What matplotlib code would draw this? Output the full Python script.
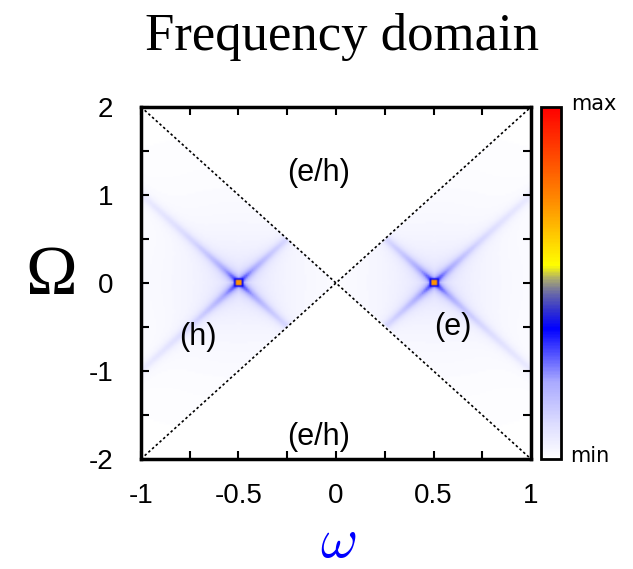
import numpy as np
import matplotlib
matplotlib.use('Agg')
import matplotlib.pyplot as plt
from matplotlib.colors import LinearSegmentedColormap
from matplotlib.ticker import MultipleLocator

plt.rcParams['mathtext.fontset'] = 'cm'

# grid of the spectral map
omega = np.linspace(-1, 1, 201)
Omega = np.linspace(-2, 2, 201)

# resonances: (h) on the left, (e) on the right
peak_omega = [-0.5, 0.5]
peak_height = 0.72      # orange core
core_height = 0.38      # blue ring round the core
core_size = 0.011
ring_size = 0.03
ridge_height = 0.30
ridge_width = 0.03
ridge_decay = 0.22
haze_height = 0.07
haze_decay = 0.30

# region labels (text, omega, Omega)
region_labels = [('(e/h)', -0.09, 1.25), ('(e/h)', -0.09, -1.75),
                 ('(h)', -0.71, -0.61), ('(e)', 0.6, -0.5)]

# colour scale of the bar
cmap_pos = [0.0, 0.10, 0.22, 0.37, 0.42, 0.47, 0.51, 0.55, 0.74, 1.0]
cmap_col = ['#ffffff', '#dcdcff', '#a8a8ff', '#0000ff', '#3030d0',
            '#6868a8', '#a8a870', '#ffff00', '#ff8800', '#ff0000']

W, O = np.meshgrid(omega, Omega)
field = np.zeros_like(W)
for w0 in peak_omega:
    dw = W - w0
    u = O / 2 - dw          # across one ridge
    v = O / 2 + dw          # across the other ridge
    r1 = ridge_height / (1 + (u / ridge_width) ** 2) / (1 + np.abs(v) / ridge_decay)
    r2 = ridge_height / (1 + (v / ridge_width) ** 2) / (1 + np.abs(u) / ridge_decay)
    haze = haze_height * np.exp(-np.hypot(dw, O / 2) / haze_decay)
    f = np.maximum(r1, r2) + haze
    d = np.maximum(np.abs(dw), np.abs(O) / 2)
    f = np.where(d <= ring_size, np.maximum(f, core_height), f)
    f = np.where(d <= core_size, peak_height, f)
    wedge = (np.abs(O) < 2 * np.abs(W)) & (np.sign(W) == np.sign(w0))
    field += np.where(wedge, f, 0)
field = np.clip(field, 0, 1)

cmap = LinearSegmentedColormap.from_list('wbyr', list(zip(cmap_pos, cmap_col)))

fig = plt.figure(figsize=(6.33, 5.69), dpi=100)
ax = fig.add_axes([0.2227, 0.1933, 0.6162, 0.6187])
dx = (omega[1] - omega[0]) / 2
dy = (Omega[1] - Omega[0]) / 2
im = ax.imshow(field, origin='lower', cmap=cmap, vmin=0, vmax=1,
               extent=[omega[0] - dx, omega[-1] + dx, Omega[0] - dy, Omega[-1] + dy],
               aspect='auto', interpolation='bilinear')
ax.set_xlim(-1, 1)
ax.set_ylim(-2, 2)

# light-cone diagonals
ax.plot([-1, 1], [2, -2], color='black', ls=(0, (1.5, 1.5)), lw=1.2)
ax.plot([-1, 1], [-2, 2], color='black', ls=(0, (1.5, 1.5)), lw=1.2)

for txt, x, y in region_labels:
    ax.text(x, y, txt, fontsize=22, family='Liberation Sans', ha='center', va='center')

ax.xaxis.set_minor_locator(MultipleLocator(0.25))
ax.yaxis.set_minor_locator(MultipleLocator(0.5))
ax.set_xticks([-1, -0.5, 0, 0.5, 1])
ax.set_xticklabels(['-1', '-0.5', '0', '0.5', '1'])
ax.set_yticks([-2, -1, 0, 1, 2])
ax.set_yticklabels(['-2', '-1', '0', '1', '2'])
ax.tick_params(which='both', direction='in', top=True, right=True,
               length=6, width=1.5, labelsize=20, pad=20)
ax.tick_params(axis='x', pad=17)
for lab in ax.get_xticklabels() + ax.get_yticklabels():
    lab.set_family('Liberation Sans')
for s in ax.spines.values():
    s.set_linewidth(2.5)

fig.text(0.534, 0.0005, r'$\omega$', fontsize=41, color='#0000ff',
         ha='center', va='bottom')
fig.text(0.081, 0.513, 'Ω', fontsize=50, family='Liberation Serif',
         ha='center', va='center')
fig.text(0.540, 0.912, 'Frequency domain', family='Liberation Serif',
         fontsize=38, ha='center', va='baseline')

cax = fig.add_axes([0.8547, 0.1933, 0.0316, 0.6187])
cb = fig.colorbar(im, cax=cax)
cb.set_ticks([])
cb.outline.set_linewidth(2)
fig.text(0.903, 0.8067, 'max', fontsize=15, ha='left', va='baseline')
fig.text(0.900, 0.188, 'min', fontsize=15, ha='left', va='baseline')

fig.savefig('out.png', dpi=100)
